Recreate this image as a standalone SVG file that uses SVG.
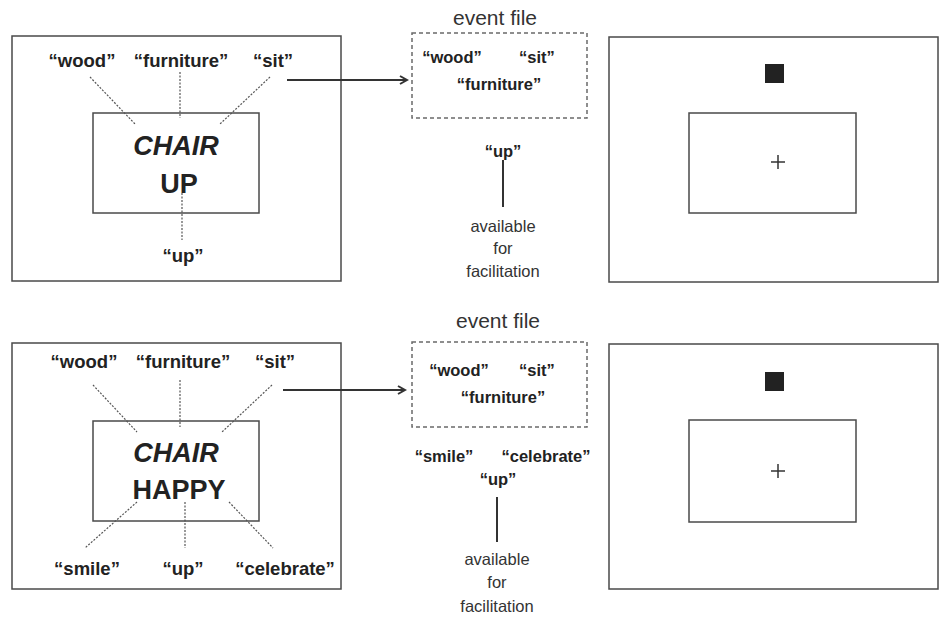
<svg xmlns="http://www.w3.org/2000/svg" width="940" height="624" viewBox="0 0 940 624">
<style>
.box{fill:none;stroke:#4a4a4a;stroke-width:1.5}
.ef{fill:none;stroke:#6a6a6a;stroke-width:1.5;stroke-dasharray:4 3}
.dl{stroke:#555;stroke-width:1.2;stroke-dasharray:2 1.5}
.w{font-family:"Liberation Sans",Arial,sans-serif;font-weight:bold;font-size:18.5px;fill:#222;text-anchor:middle}
.ws{font-family:"Liberation Sans",Arial,sans-serif;font-weight:bold;font-size:16.5px;fill:#222;text-anchor:middle}
.big{font-family:"Liberation Sans",Arial,sans-serif;font-weight:bold;font-size:27px;fill:#222;text-anchor:middle}
.lab{font-family:"Liberation Sans",Arial,sans-serif;font-size:21px;fill:#333;text-anchor:middle}
.sm{font-family:"Liberation Sans",Arial,sans-serif;font-size:16.5px;fill:#333;text-anchor:middle}
.arr{stroke:#333;stroke-width:2;fill:none}
.plus{stroke:#333;stroke-width:1.5}
</style>
<defs>
<marker id="ah" markerWidth="10" markerHeight="10" refX="8" refY="5" orient="auto" markerUnits="userSpaceOnUse">
<path d="M1,1 L8,5 L1,9" fill="none" stroke="#333" stroke-width="2"/>
</marker>
</defs>

<!-- Top row -->
<g id="display1">
<rect class="box" x="12" y="36" width="329" height="245"/>
<rect class="box" x="93" y="113" width="166" height="100"/>
<text class="w" x="82" y="67">“wood”</text>
<text class="w" x="181" y="67">“furniture”</text>
<text class="w" x="273" y="67">“sit”</text>
<text class="big" x="176" y="155" font-style="italic">CHAIR</text>
<text class="big" x="179" y="193">UP</text>
<text class="w" x="183" y="262">“up”</text>
</g>
<g id="eventfile1">
<text class="lab" x="495" y="25">event file</text>
<rect class="ef" x="412" y="33" width="175" height="85"/>
<text class="ws" x="452" y="63">“wood”</text>
<text class="ws" x="537" y="63">“sit”</text>
<text class="ws" x="499" y="90">“furniture”</text>
</g>
<g id="avail1">
<text class="ws" x="503" y="157">“up”</text>
<text class="sm" x="503" y="232">available</text>
<text class="sm" x="503" y="254">for</text>
<text class="sm" x="503" y="277">facilitation</text>
</g>
<g id="probe1">
<rect class="box" x="609" y="37" width="329" height="245"/>
<rect class="box" x="689" y="113" width="167" height="100"/>
<rect x="765" y="64" width="19" height="19" fill="#222"/>
<line class="plus" x1="771" y1="162" x2="785" y2="162"/>
<line class="plus" x1="778" y1="155" x2="778" y2="169"/>
</g>

<!-- Bottom row -->
<g id="display2">
<rect class="box" x="12" y="343" width="329" height="246"/>
<rect class="box" x="93" y="421" width="166" height="100"/>
<text class="w" x="84" y="368">“wood”</text>
<text class="w" x="183" y="368">“furniture”</text>
<text class="w" x="275" y="368">“sit”</text>
<text class="big" x="176" y="462" font-style="italic">CHAIR</text>
<text class="big" x="179" y="499">HAPPY</text>
<text class="w" x="87" y="575">“smile”</text>
<text class="w" x="183" y="575">“up”</text>
<text class="w" x="285" y="575">“celebrate”</text>
</g>
<g id="eventfile2">
<text class="lab" x="498" y="328">event file</text>
<rect class="ef" x="412" y="342" width="175" height="85"/>
<text class="ws" x="459" y="376">“wood”</text>
<text class="ws" x="537" y="376">“sit”</text>
<text class="ws" x="503" y="403">“furniture”</text>
</g>
<g id="avail2">
<text class="ws" x="444" y="462">“smile”</text>
<text class="ws" x="546" y="462">“celebrate”</text>
<text class="ws" x="498" y="485">“up”</text>
<text class="sm" x="497" y="565">available</text>
<text class="sm" x="497" y="588">for</text>
<text class="sm" x="497" y="612">facilitation</text>
</g>
<g id="probe2">
<rect class="box" x="609" y="344" width="329" height="245"/>
<rect class="box" x="689" y="420" width="167" height="102"/>
<rect x="765" y="372" width="19" height="19" fill="#222"/>
<line class="plus" x1="771" y1="471" x2="785" y2="471"/>
<line class="plus" x1="778" y1="464" x2="778" y2="478"/>
</g>

<g id="connectors">
<line class="dl" x1="90" y1="77" x2="135" y2="124"/>
<line class="dl" x1="180" y1="72" x2="180" y2="118"/>
<line class="dl" x1="270" y1="77" x2="220" y2="124"/>
<line class="dl" x1="182" y1="193" x2="182" y2="240"/>
<line class="arr" x1="287" y1="80" x2="407" y2="80" marker-end="url(#ah)"/>
<line stroke="#333" stroke-width="2" x1="503" y1="160" x2="503" y2="207"/>

<line class="dl" x1="93" y1="385" x2="137" y2="432"/>
<line class="dl" x1="180" y1="380" x2="180" y2="427"/>
<line class="dl" x1="272" y1="385" x2="222" y2="432"/>
<line class="dl" x1="137" y1="502" x2="85" y2="548"/>
<line class="dl" x1="185" y1="502" x2="185" y2="548"/>
<line class="dl" x1="229" y1="502" x2="273" y2="548"/>
<line class="arr" x1="283" y1="390" x2="405" y2="390" marker-end="url(#ah)"/>
<line stroke="#333" stroke-width="2" x1="497" y1="497" x2="497" y2="542"/>
</g>
</svg>
